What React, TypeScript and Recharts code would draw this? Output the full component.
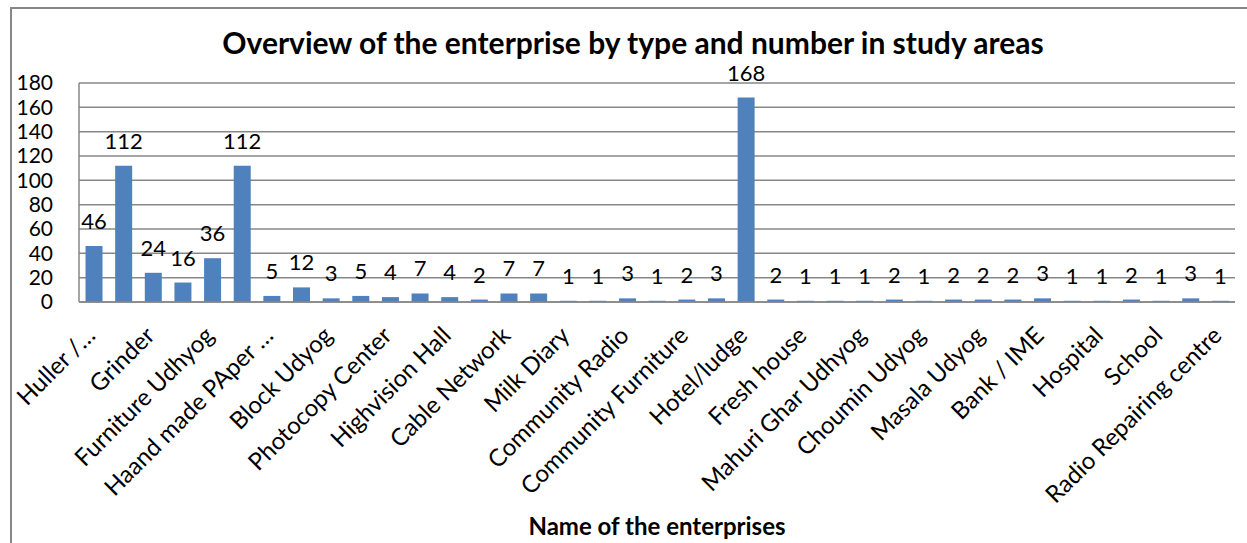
import { BarChart, Bar, XAxis, YAxis, CartesianGrid, LabelList } from "recharts";

// Only every second category name is printed on the source chart; the
// in-between ones are unreadable, so they get neutral placeholder names.
const categories = [
  "Huller /…",
  "Enterprise 2",
  "Grinder",
  "Enterprise 4",
  "Furniture Udhyog",
  "Enterprise 6",
  "Haand made PAper …",
  "Enterprise 8",
  "Block Udyog",
  "Enterprise 10",
  "Photocopy Center",
  "Enterprise 12",
  "Highvision Hall",
  "Enterprise 14",
  "Cable Network",
  "Enterprise 16",
  "Milk Diary",
  "Enterprise 18",
  "Community Radio",
  "Enterprise 20",
  "Community Furniture",
  "Enterprise 22",
  "Hotel/ludge",
  "Enterprise 24",
  "Fresh house",
  "Enterprise 26",
  "Mahuri Ghar Udhyog",
  "Enterprise 28",
  "Choumin Udyog",
  "Enterprise 30",
  "Masala Udyog",
  "Enterprise 32",
  "Bank / IME",
  "Enterprise 34",
  "Hospital",
  "Enterprise 36",
  "School",
  "Enterprise 38",
  "Radio Repairing centre",
];

const counts = [
  46, 112, 24, 16, 36, 112, 5, 12, 3, 5, 4, 7, 4, 2, 7, 7, 1, 1, 3, 1, 2, 3,
  168, 2, 1, 1, 1, 2, 1, 2, 2, 2, 3, 1, 1, 2, 1, 3, 1,
];

const yTicks = [0, 20, 40, 60, 80, 100, 120, 140, 160, 180];

const data = categories.map((name, i) => ({ name, count: counts[i] }));

const FONT = "Lato, 'Open Sans', sans-serif";
const GREY = "#878787";

function AngledTick(props: any) {
  const { x, y, payload } = props;
  const tx = x + 3;
  return (
    <text
      x={tx}
      y={y}
      transform={`rotate(-45 ${tx} ${y})`}
      textAnchor="end"
      fontSize={24}
      fontFamily={FONT}
      fill="#000"
    >
      {payload.value}
    </text>
  );
}

export default function App() {
  return (
    <div
      style={{
        position: "absolute",
        left: 0,
        top: 0,
        width: 1247,
        height: 543,
        overflow: "hidden",
        background: "#fff",
      }}
    >
      <div
        style={{
          position: "absolute",
          left: 10,
          top: 7,
          width: 1270,
          height: 570,
          border: `2px solid ${GREY}`,
        }}
      />
      <div style={{ position: "absolute", left: 0, top: 0 }}>
        <BarChart
          width={1247}
          height={543}
          data={data}
          margin={{ top: 83, right: 12, bottom: 0, left: 0 }}
          barCategoryGap="22%"
        >
          <CartesianGrid vertical={false} stroke={GREY} strokeWidth={1.5} />
          <XAxis
            dataKey="name"
            interval={1}
            tickLine={false}
            tickSize={0}
            tickMargin={35}
            axisLine={{ stroke: GREY, strokeWidth: 1.5 }}
            tick={<AngledTick />}
            height={241}
          />
          <YAxis
            domain={[0, 180]}
            ticks={yTicks}
            interval={0}
            width={79}
            tickLine={false}
            tickSize={0}
            tickMargin={26}
            axisLine={{ stroke: GREY, strokeWidth: 1.5 }}
            tick={{ fontSize: 21, fontFamily: FONT, fill: "#000" }}
          />
          <Bar dataKey="count" fill="#4F81BD" isAnimationActive={false}>
            <LabelList
              dataKey="count"
              position="top"
              offset={17}
              fontSize={22}
              fontFamily={FONT}
              fill="#000"
            />
          </Bar>
        </BarChart>
      </div>
      <svg
        width={1247}
        height={543}
        style={{ position: "absolute", left: 0, top: 0, pointerEvents: "none" }}
      >
        <text
          x={633}
          y={54}
          textAnchor="middle"
          fontSize={30}
          fontWeight="bold"
          fontFamily={FONT}
          fill="#000"
        >
          Overview of the enterprise by type and number in study areas
        </text>
        <text
          x={657}
          y={535}
          textAnchor="middle"
          fontSize={24}
          fontWeight="bold"
          fontFamily={FONT}
          fill="#000"
        >
          Name of the enterprises
        </text>
      </svg>
    </div>
  );
}
